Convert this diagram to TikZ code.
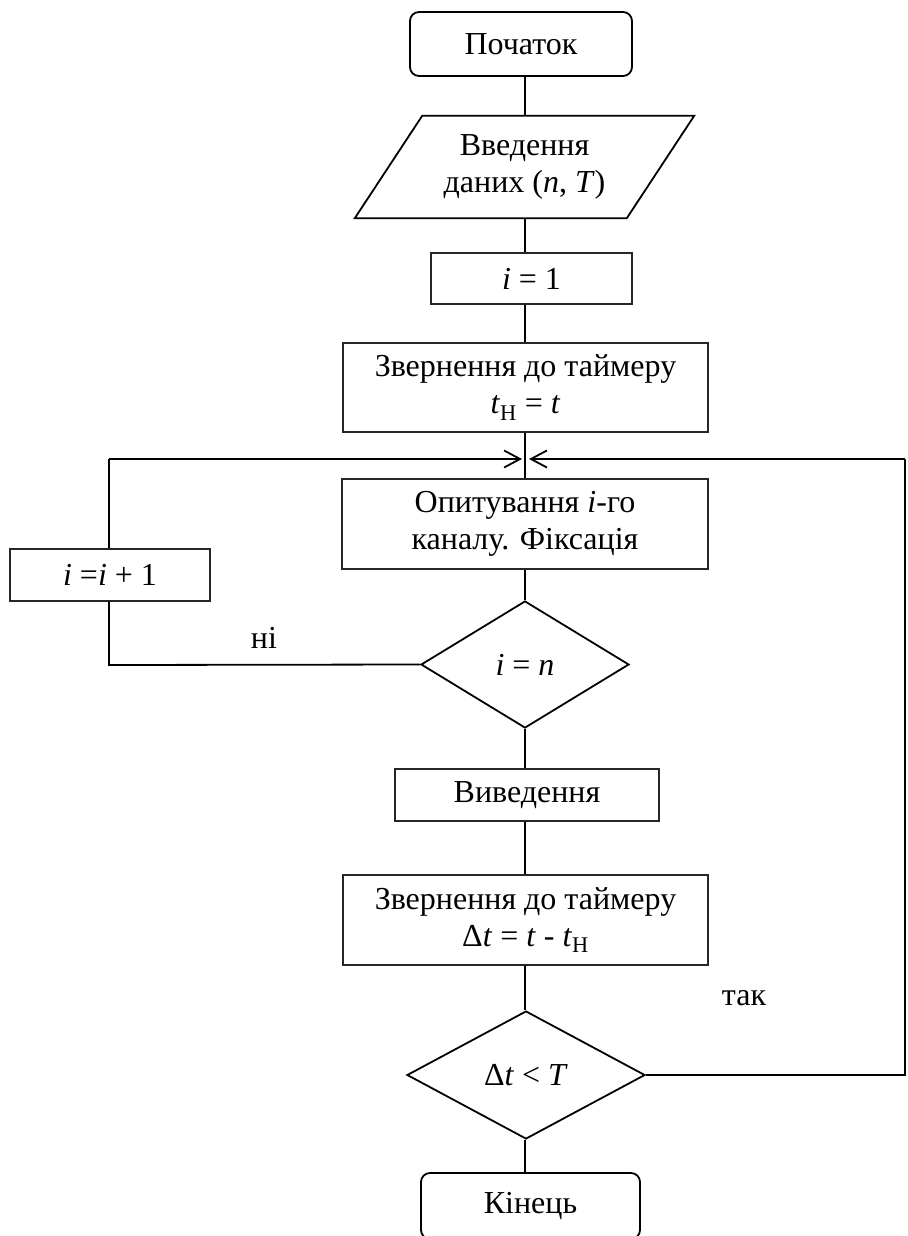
\documentclass[tikz,border=0pt]{standalone}
\usepackage{fontspec}
\setmainfont{Liberation Serif}
\usetikzlibrary{shapes.geometric,arrows.meta}
\begin{document}
\begin{tikzpicture}[x=1pt,y=-1pt,
  every node/.style={font=\fontsize{32}{37}\selectfont, inner sep=0pt, align=center},
  boxnode/.style={draw=black!85, line width=1.3pt, rectangle},
  termnode/.style={draw, line width=1.8pt, rounded corners=9pt, rectangle},
  decnode/.style={draw, line width=1.8pt, diamond},
  conn/.style={line width=1.8pt},
  arrowin/.style={line width=1.8pt, -{Straight Barb[length=16pt,width=17pt]}},
  lbl/.style={font=\fontsize{32}{37}\selectfont}
]
\useasboundingbox (0,0) rectangle (907,1236);
\coordinate (axis) at (525,0);
% nodes
\node[termnode, minimum width=222, minimum height=64] (start) at (521,44) {Початок};
\node[minimum width=339, minimum height=102] (io) at (524.5,167) {Введення\\даних (\textit{n}, \textit{T})};
\draw[line width=1.8pt] (io.south west) -- ++(272,0) -- (io.north east) -- ++(-272,0) -- cycle;
\node[boxnode, minimum width=201, minimum height=51] (i1) at (531.5,278.5) {\textit{i} = 1};
\node[boxnode, minimum width=365, minimum height=89] (z1) at (525.5,387.5) {Звернення до таймеру\\\textit{t}\textsubscript{Н} = \textit{t}};
\coordinate (j) at (525,459);
\node[boxnode, minimum width=366, minimum height=90] (poll) at (525,524) {Опитування \textit{i}-го\\каналу. Фіксація};
\node[decnode, minimum width=208, minimum height=127] (d1) at (525,664.5) {\textit{i} = \textit{n}};
\node[boxnode, minimum width=200, minimum height=52] (inc) at (110,575) {\textit{i} =\textit{i} + 1};
\node[boxnode, minimum width=264, minimum height=52] (outp) at (527,795) {Виведення};
\node[boxnode, minimum width=365, minimum height=90] (z2) at (525.5,920) {Звернення до таймеру\\Δ\textit{t} = \textit{t} - \textit{t}\textsubscript{Н}};
\node[decnode, minimum width=238, minimum height=128] (d2) at (526,1075) {Δ\textit{t} < \textit{T}};
\node[termnode, minimum width=219, minimum height=66] (fin) at (530.5,1206) {Кінець};
\coordinate (lc) at (109,459);
\coordinate (ld) at (109,665);
\coordinate (rd) at (905,1075);
\coordinate (ru) at (905,459);
% labels
\node[lbl] (no) at (264,638) {ні};
\node[lbl] (yes) at (744,998) {так};
% connectors
\draw[conn] (start.south -| axis) -- (io.north -| axis);
\draw[conn] (io.south -| axis) -- (i1.north -| axis);
\draw[conn] (i1.south -| axis) -- (z1.north -| axis);
\draw[conn] (z1.south -| axis) -- (poll.north -| axis);
\draw[conn] (poll.south -| axis) -- (d1.north);
\draw[conn] (d1.south) -- (outp.north -| axis);
\draw[conn] (outp.south -| axis) -- (z2.north -| axis);
\draw[conn] (z2.south -| axis) -- (d2.north -| axis);
\draw[conn] (d2.south -| axis) -- (fin.north -| axis);
\draw[conn] (d1.west) -- (ld) -- (inc.south -| ld);
\draw[conn] (inc.north -| lc) -- (lc);
\draw[arrowin] (lc) -- ([xshift=-3pt]j);
\draw[conn] (d2.east) -- (rd) -- (ru);
\draw[arrowin] (ru) -- ([xshift=4pt]j);
\end{tikzpicture}
\end{document}
